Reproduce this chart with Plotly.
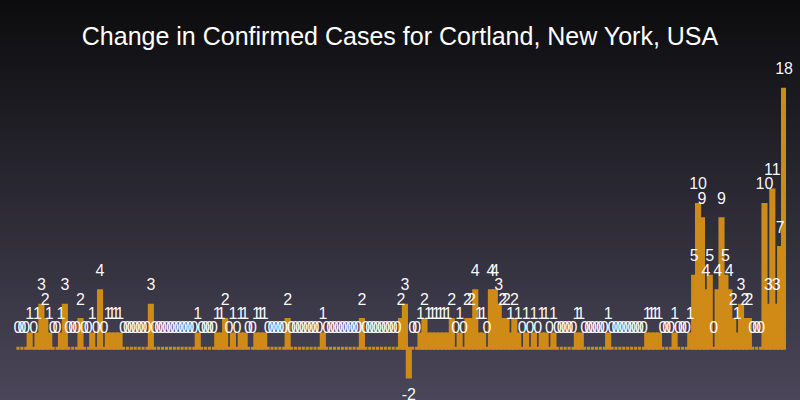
import plotly.graph_objects as go

title_text = "Change in Confirmed Cases for Cortland, New York, USA"

days = list(range(197))
changes = [
    0, 0, 0, 1, 0, 1, 3, 2, 1, 0,
    0, 1, 3, 0, 0, 0, 2, 0, 0, 1,
    0, 4, 0, 1, 1, 1, 1, 0, 0, 0,
    0, 0, 0, 0, 3, 0, 0, 0, 0, 0,
    0, 0, 0, 0, 0, 0, 1, 0, 0, 0,
    0, 1, 1, 2, 0, 1, 0, 1, 1, 0,
    0, 1, 1, 1, 0, 0, 0, 0, 0, 2,
    0, 0, 0, 0, 0, 0, 0, 0, 1, 0,
    0, 0, 0, 0, 0, 0, 0, 0, 2, 0,
    0, 0, 0, 0, 0, 0, 0, 0, 2, 3,
    -2, 0, 0, 1, 2, 1, 1, 1, 1, 1,
    1, 2, 0, 1, 0, 2, 2, 4, 1, 1,
    0, 4, 4, 3, 2, 2, 1, 2, 1, 0,
    1, 0, 1, 0, 1, 1, 0, 1, 0, 0,
    0, 0, 0, 1, 1, 0, 0, 0, 0, 0,
    0, 1, 0, 0, 0, 0, 0, 0, 0, 0,
    0, 1, 1, 1, 1, 0, 0, 0, 1, 0,
    0, 0, 1, 5, 10, 9, 4, 5, 0, 4,
    9, 5, 4, 2, 1, 3, 2, 2, 0, 0,
    0, 10, 3, 11, 3, 7, 18,
]

bar_color = "#CF8B17"
bg_top = (12, 12, 14)
bg_bottom = (74, 70, 89)

fig = go.Figure()

fig.add_trace(go.Bar(
    x=days, y=changes,
    marker=dict(color=bar_color, line=dict(color=bar_color, width=3)),
    hoverinfo="skip",
))

fig.add_trace(go.Scatter(
    x=days, y=changes,
    mode="markers+text",
    text=[str(v) for v in changes],
    textposition=["bottom center" if v < 0 else "top center" for v in changes],
    textfont=dict(color="rgba(255,255,255,0.99)", size=16,
                  family="Liberation Sans, Arial, sans-serif"),
    marker=dict(size=16, opacity=0),
    cliponaxis=False,
    hoverinfo="skip",
))

# vertical gradient background made from thin stacked rectangles
n_bands = 100
shapes = []
for k in range(n_bands):
    t = k / (n_bands - 1)
    c = tuple(round(bg_top[j] + (bg_bottom[j] - bg_top[j]) * t) for j in range(3))
    shapes.append(dict(
        type="rect", xref="paper", yref="paper",
        x0=0, x1=1, y0=1 - (k + 1) / n_bands, y1=1 - k / n_bands,
        fillcolor="rgb(%d,%d,%d)" % c, line=dict(width=0), layer="below",
    ))

fig.update_layout(
    width=800, height=400,
    margin=dict(l=0, r=0, t=0, b=0),
    paper_bgcolor="rgb(12,12,14)",
    plot_bgcolor="rgba(0,0,0,0)",
    shapes=shapes,
    showlegend=False,
    bargap=0.2,
    title=dict(
        text=title_text, x=0.5, xanchor="center", y=0.91, yanchor="middle",
        yref="container",
        font=dict(color="white", size=25, family="Liberation Sans, Arial, sans-serif"),
    ),
    xaxis=dict(domain=[16 / 800, 786 / 800], range=[-0.5, len(days) - 0.5],
               visible=False, fixedrange=True),
    yaxis=dict(domain=[0, 1], range=[-3.59, 24.2], visible=False, fixedrange=True),
)

fig.write_html("out.html")
